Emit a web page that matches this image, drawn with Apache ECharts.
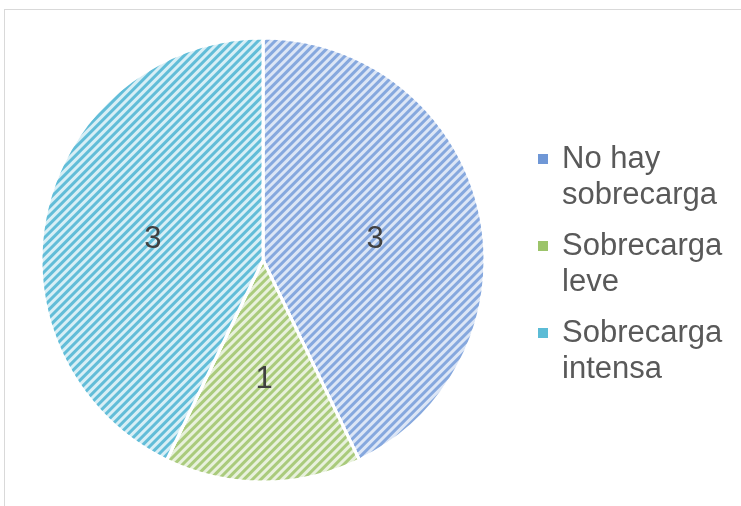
<!DOCTYPE html>
<html>
<head>
<meta charset="utf-8">
<script src="https://cdn.jsdelivr.net/npm/echarts@6/dist/echarts.min.js"></script>
<style>
  html, body { margin: 0; padding: 0; background: #fff; }
  #main { width: 741px; height: 506px; }
  #frame { position: absolute; left: 4px; top: 9px; width: 760px; height: 520px;
           border: 1px solid #d9d9d9; pointer-events: none; }
</style>
</head>
<body>
<div id="main"></div>
<div id="frame"></div>
<script>
var chartDom = document.getElementById('main');
var myChart = echarts.init(chartDom);
var option;

// categories and values
const categories = ['No hay\nsobrecarga', 'Sobrecarga\nleve', 'Sobrecarga\nintensa'];
const values = [3, 1, 3];
// light base colour, stripe colour and legend swatch colour for each slice
const baseColors = ['#dce6f6', '#e8f1dc', '#d8eff6'];
const stripeColors = ['#86a8de', '#aacb7c', '#62bdd8'];
const swatchColors = ['#6f97d6', '#9cc46a', '#5cbcd6'];

function stripes(color) {
    return {
        symbol: 'rect',
        symbolSize: 1,
        color: color,
        dashArrayX: [1, 0],
        dashArrayY: [2.5, 2.5],
        rotation: -Math.PI / 4
    };
}

const pieData = categories.map((name, i) => ({
    name: name,
    value: values[i],
    itemStyle: {
        color: baseColors[i],
        decal: stripes(stripeColors[i])
    }
}));

const legendData = categories.map((name, i) => ({
    name: name,
    itemStyle: { color: swatchColors[i], decal: 'none', borderWidth: 0 }
}));

option = {
    backgroundColor: '#ffffff',
    animation: false,
    legend: {
        orient: 'vertical',
        left: 533,
        top: 100,
        icon: 'path://M0,0h10v10h-10z',
        symbolKeepAspect: true,
        itemWidth: 28,
        itemHeight: 10,
        itemGap: -21,
        data: legendData,
        // empty first line so the swatch sits beside the first text line
        formatter: function (name) {
            return '\n' + name;
        },
        textStyle: {
            fontFamily: 'Liberation Sans, Arial, sans-serif',
            fontSize: 31,
            lineHeight: 36,
            color: '#595959'
        }
    },
    series: [
        {
            name: 'Sobrecarga',
            type: 'pie',
            center: [263, 260],
            radius: 222,
            startAngle: 90,
            clockwise: true,
            itemStyle: {
                borderColor: '#ffffff',
                borderWidth: 3
            },
            label: {
                show: true,
                position: 'inside',
                formatter: '{c}',
                offset: [1, 5],
                fontFamily: 'Liberation Sans, Arial, sans-serif',
                fontSize: 31,
                color: '#404040'
            },
            labelLine: { show: false },
            emphasis: { disabled: true },
            data: pieData
        }
    ]
};

option && myChart.setOption(option);
</script>
</body>
</html>
